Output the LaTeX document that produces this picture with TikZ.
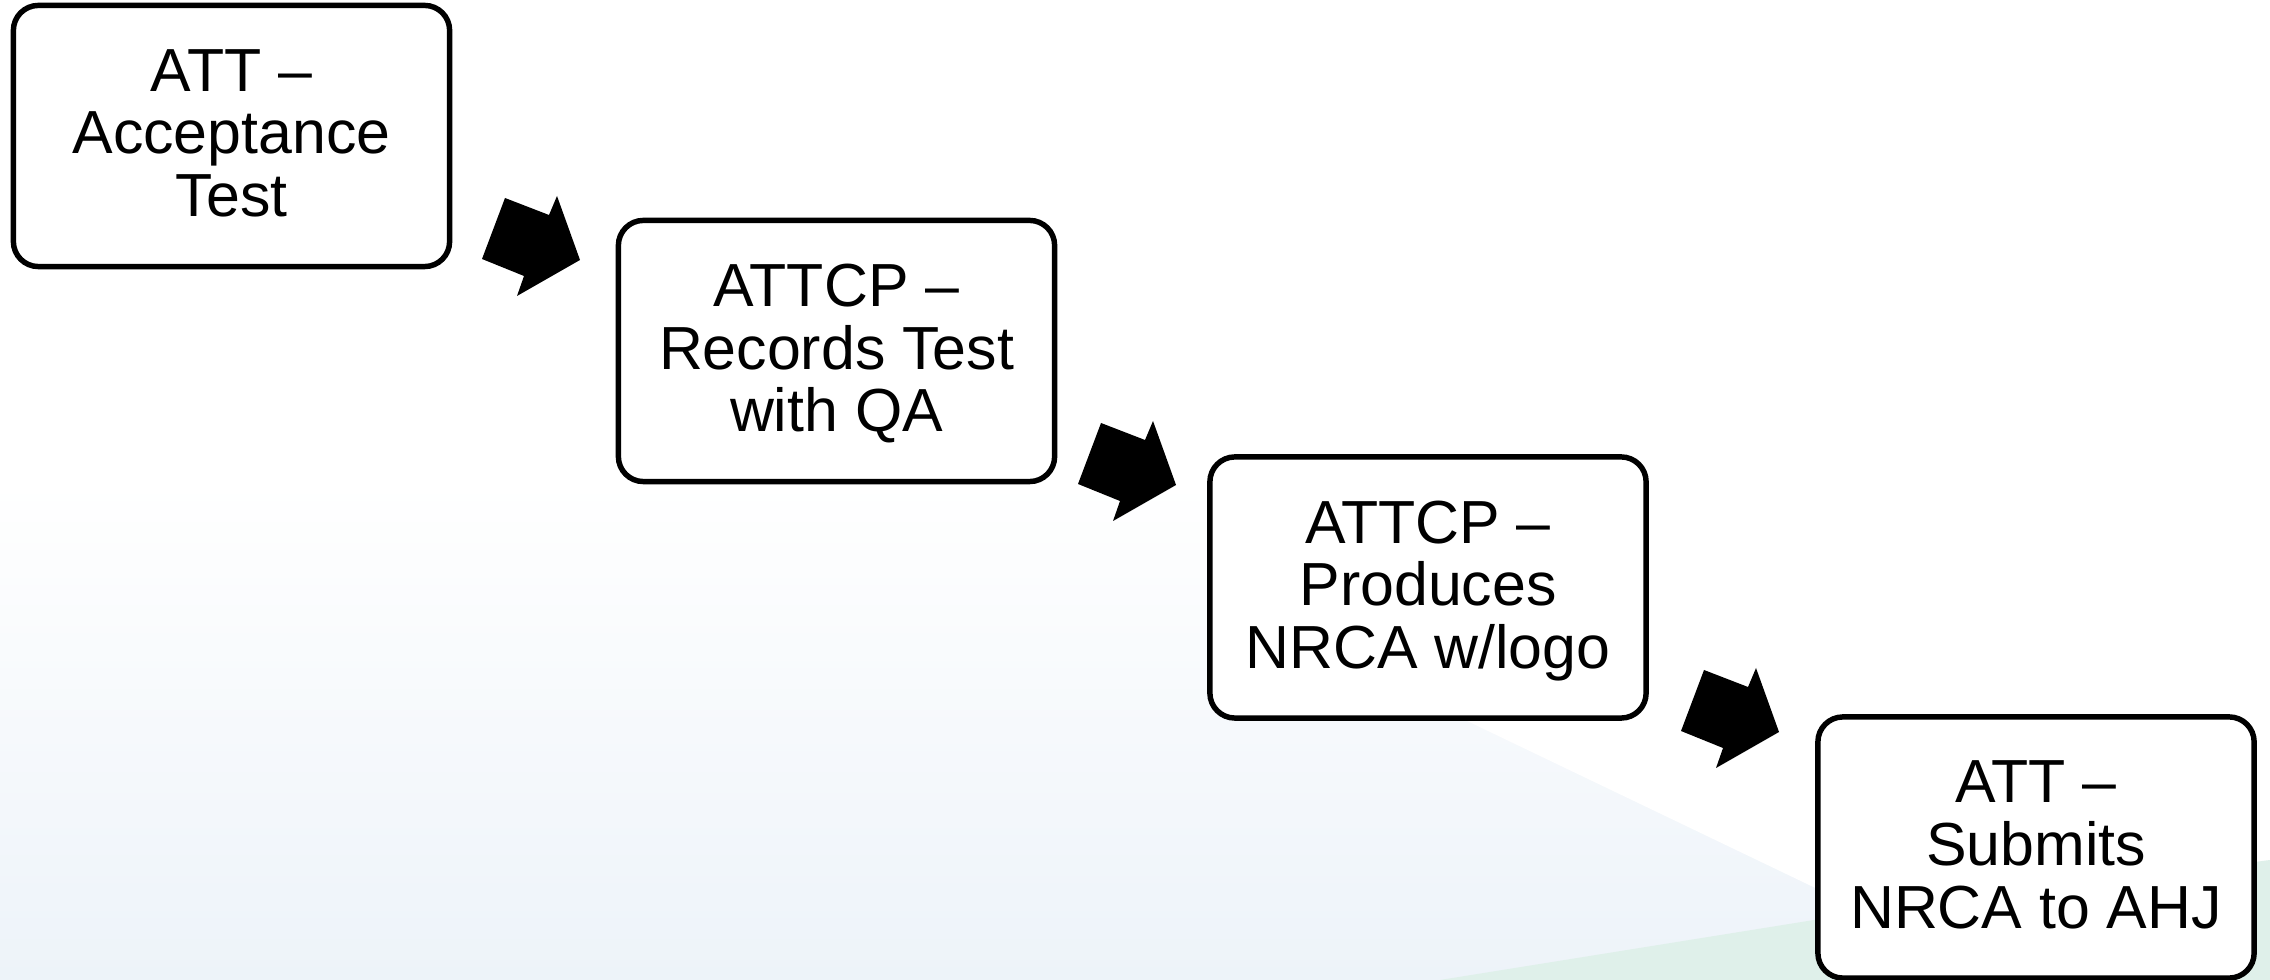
\documentclass[tikz,border=0pt]{standalone}
\usepackage{fontspec}
\setmainfont{Liberation Sans}
\definecolor{pohja}{HTML}{EDF3F9}
\definecolor{vihrea}{HTML}{DFF0EA}

\begin{document}
\begin{tikzpicture}[x=0.01cm,y=-0.01cm]
\fontsize{17.3}{17.8}\selectfont
\newcommand\nuoli[2]{
\path[fill=black] (-75+#1,-62+#2) -- (-31+#1,-45+#2) -- (-23+#1,-64+#2) -- (#1,#2) -- (-63+#1,36+#2) -- (-56+#1,16+#2) -- (-98+#1,-1+#2) -- cycle;
}
\tikzset{vaihe/.style={draw, line width=1.55pt, rounded corners=0.25cm, fill=white, minimum width=4.36cm, minimum height=2.61cm, align=center, text depth=0.06cm, inner sep=0pt}}
\useasboundingbox (0,0) rectangle (2270,980);
\shade[top color=white, bottom color=pohja] (0,480) rectangle (2270,980);
\fill[white] (1440,708) -- (1830,895) -- (2270,895) -- (2270,480) -- (1440,480) -- cycle;
\fill[vihrea] (1440,980) -- (1814,920) -- (2270,860) -- (2270,980) -- cycle;
\node[vaihe] (test) at (231.5,136) {ATT –\\Acceptance\\Test};
\node[vaihe] (qa) at (836.5,351) {ATTCP –\\Records Test\\with QA};
\node[vaihe] (logo) at (1428,587.5) {ATTCP –\\Produces\\NRCA w/logo};
\node[vaihe] (ahj) at (2036,847.5) {ATT –\\Submits\\NRCA to AHJ};
\nuoli{580}{260}
\nuoli{1176}{485}
\nuoli{1779}{732}
\end{tikzpicture}
\end{document}
